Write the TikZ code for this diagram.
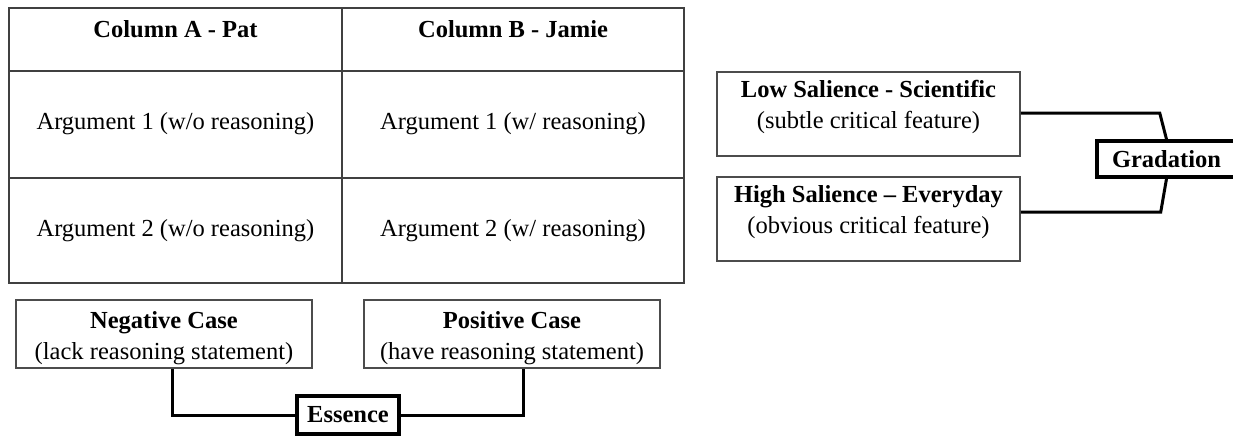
\documentclass[tikz,border=0pt]{standalone}
\usepackage{fontspec}
\setmainfont{Liberation Serif}

\begin{document}
\begin{tikzpicture}[x=0.5pt, y=-0.5pt]
\tikzset{
  grid line/.style={draw=black!75, line width=1pt},
  case box/.style={draw=black!70, line width=0.75pt, inner sep=0pt},
  key box/.style={draw=black, line width=1.75pt, inner sep=0pt, font=\bfseries\fontsize{12.25}{15.5}\selectfont},
  txt/.style={align=center, inner sep=0pt, font=\fontsize{12.25}{15.5}\selectfont},
  head/.style={txt, font=\bfseries\fontsize{12.25}{15.5}\selectfont},
  link/.style={draw=black, line width=1.5pt}
}
\clip[use as bounding box] (0,0) rectangle (1233,435);

% table of the two students
\pgfmathsetmacro{\tableft}{9}
\pgfmathsetmacro{\tabright}{684}
\pgfmathsetmacro{\tabmid}{342}
\pgfmathsetmacro{\tabtop}{8}
\pgfmathsetmacro{\tabhead}{71}
\pgfmathsetmacro{\tabrow}{178}
\pgfmathsetmacro{\tabbot}{283}
\draw[grid line] (\tableft,\tabtop) rectangle (\tabright,\tabbot);
\draw[grid line] (\tableft,\tabhead) -- (\tabright,\tabhead);
\draw[grid line] (\tableft,\tabrow) -- (\tabright,\tabrow);
\draw[grid line] (\tabmid,\tabtop) -- (\tabmid,\tabbot);

\node[head, anchor=base] (colA) at (175.5,37) {Column A - Pat};
\node[head, anchor=base] (colB) at (513,37) {Column B - Jamie};
\node[txt, anchor=base] (argA1) at (175.5,129) {Argument 1 (w/o reasoning)};
\node[txt, anchor=base] (argB1) at (513,129) {Argument 1 (w/ reasoning)};
\node[txt, anchor=base] (argA2) at (175.5,236) {Argument 2 (w/o reasoning)};
\node[txt, anchor=base] (argB2) at (513,236) {Argument 2 (w/ reasoning)};

% essence
\node[case box, minimum width=148pt, minimum height=34pt] (neg) at (164,334) {};
\node[txt] (negtext) at (164,338) {\textbf{Negative Case}\\(lack reasoning statement)};
\node[case box, minimum width=148pt, minimum height=34pt] (pos) at (512,334) {};
\node[txt] (postext) at (512,338) {\textbf{Positive Case}\\(have reasoning statement)};
\node[key box, minimum width=51pt, minimum height=19pt] (ess) at (348,415) {Essence};

\draw[link] ([xshift=4pt]neg.south) |- (ess.west);
\draw[link] ([xshift=5.5pt]pos.south) |- (ess.east);

% gradation
\node[case box, minimum width=151.5pt, minimum height=42pt] (low) at (868.5,114) {};
\node[txt] (lowtext) at (868.5,107) {\textbf{Low Salience - Scientific}\\(subtle critical feature)};
\node[case box, minimum width=151.5pt, minimum height=42pt] (high) at (868.5,219) {};
\node[txt] (hightext) at (868.5,212) {\textbf{High Salience -- Everyday}\\(obvious critical feature)};
\node[key box, minimum width=69.5pt, minimum height=18pt] (grad) at (1166.5,159) {Gradation};

\draw[link] ([yshift=0.5pt]low.east) -- ++(139,0) -- (grad.north);
\draw[link] ([yshift=3.5pt]high.east) -- ++(140,0) -- (grad.south);

\end{tikzpicture}
\end{document}
